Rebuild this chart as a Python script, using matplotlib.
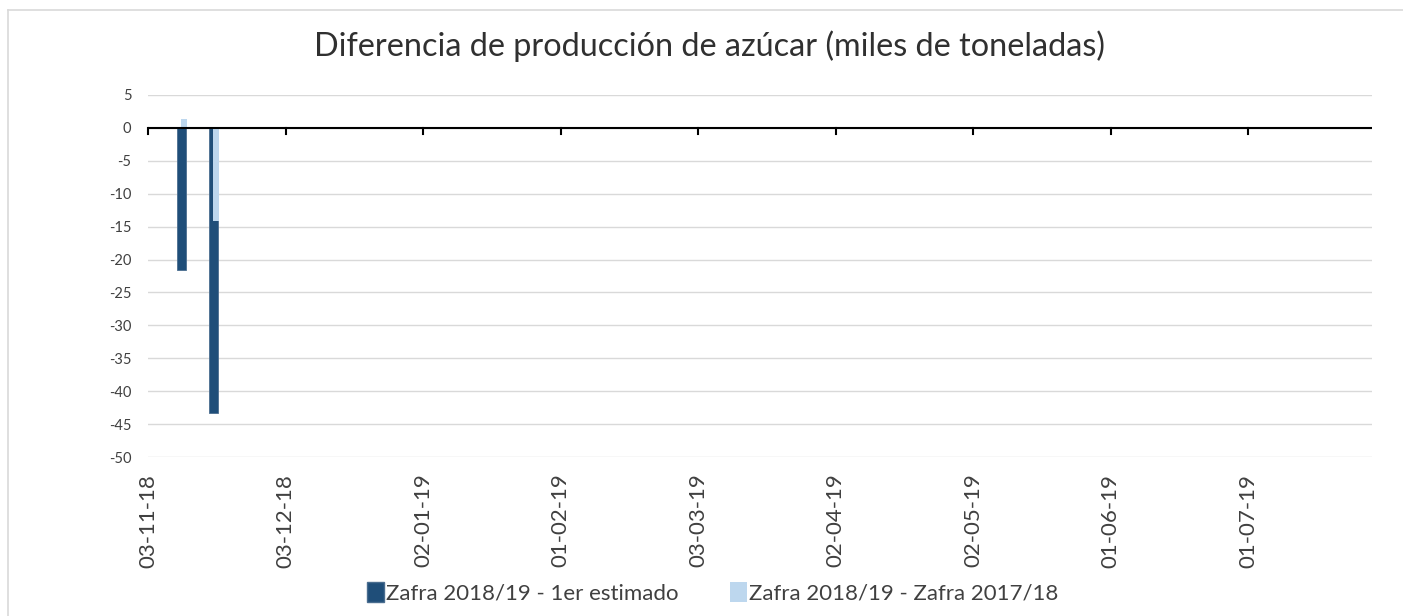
import matplotlib
matplotlib.use("Agg")
import matplotlib.pyplot as plt
import matplotlib.dates as mdates
from matplotlib.patches import Patch
from datetime import datetime

plt.rcParams['font.family'] = ['Lato', 'DejaVu Sans']

# Data (weekly)
FECHAS = ['2018-11-10', '2018-11-17']
ESTIMADO = [-21.6, -43.3]        # Zafra 2018/19 - 1er estimado
VS_ANTERIOR = [1.4, -14.2]       # Zafra 2018/19 - Zafra 2017/18
TICKS = ['2018-11-03', '2018-12-03', '2019-01-02', '2019-02-01', '2019-03-03',
         '2019-04-02', '2019-05-02', '2019-06-01', '2019-07-01']
YTICKS = list(range(5, -55, -5))

DARK = '#1f4e79'
LIGHT = '#bdd7ee'

fechas = mdates.date2num([datetime.strptime(d, '%Y-%m-%d') for d in FECHAS])
ticks = mdates.date2num([datetime.strptime(d, '%Y-%m-%d') for d in TICKS])

fig = plt.figure(figsize=(14.03, 6.16), dpi=100)
ax = fig.add_axes([0.1055, 0.2581, 0.8725, 0.5877])

ax.bar(fechas + 0.36, ESTIMADO, width=1.9, color=DARK, edgecolor='#4a6d8f', linewidth=0.6, zorder=3)
ax.bar(fechas + 0.9, VS_ANTERIOR, width=1.3, color=LIGHT, linewidth=0, zorder=4)

x0 = ticks[0]
ax.set_xlim(x0, x0 + 267)
ax.set_ylim(-50, 5)
ax.set_yticks(YTICKS)
ax.set_yticklabels([str(v) for v in YTICKS], fontsize=10.5, color='#404040')
ax.yaxis.grid(True, color='#d9d9d9', linewidth=1)
ax.set_axisbelow(True)
ax.tick_params(axis='y', length=0, pad=12)

for s in ax.spines.values():
    s.set_visible(False)

# zero axis line with tick marks
ax.axhline(0, color='black', linewidth=1.5, zorder=5)
for t in ticks:
    ax.plot([t, t], [0, -0.9], color='black', linewidth=1.5, zorder=5, clip_on=False)

ax.set_xticks(ticks)
ax.set_xticklabels([datetime.strptime(d, '%Y-%m-%d').strftime('%d-%m-%y') for d in TICKS],
                   rotation=90, fontsize=16, color='#404040')
ax.tick_params(axis='x', length=0, pad=12)

fig.text(0.5055, 0.925, 'Diferencia de producción de azúcar (miles de toneladas)',
         ha='center', va='center', fontsize=23.3, color='#303030')

# legend
handles = [Patch(facecolor=DARK, edgecolor='#4a6d8f', label='Zafra 2018/19 - 1er estimado'),
           Patch(facecolor=LIGHT, label='Zafra 2018/19 - Zafra 2017/18')]
leg = fig.legend(handles=handles, loc='center', bbox_to_anchor=(0.508, 0.038), ncol=2,
                 frameon=False, fontsize=16, handlelength=0.75, handleheight=1.0,
                 handletextpad=0.1, columnspacing=2.3)
for t in leg.get_texts():
    t.set_color('#404040')

# chart border
fig.add_artist(plt.Line2D([7.5 / 1403, 1], [1 - 10 / 616, 1 - 10 / 616], color='#d9d9d9', linewidth=1.2))
fig.add_artist(plt.Line2D([7.5 / 1403, 7.5 / 1403], [0, 1 - 10 / 616], color='#d9d9d9', linewidth=1.2))

fig.savefig('out.png', dpi=100)
